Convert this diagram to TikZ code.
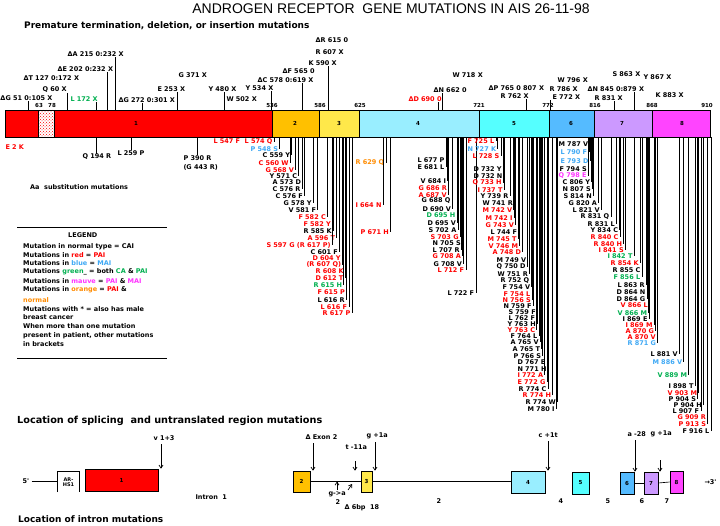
\documentclass[tikz,border=0pt]{standalone}
\usepackage{fontspec}
\setmainfont{Liberation Sans}
\newfontfamily\labfont{DejaVu Sans}
\usetikzlibrary{patterns,arrows.meta}
\definecolor{mred}{HTML}{FF0000}
\definecolor{mblue}{HTML}{3FA9F5}
\definecolor{mgreen}{HTML}{00B050}
\definecolor{morange}{HTML}{FF8C00}
\definecolor{mmag}{HTML}{FF33FF}
\definecolor{eA}{HTML}{FF0000}
\definecolor{eB}{HTML}{FFC000}
\definecolor{eC}{HTML}{FFE84A}
\definecolor{eD}{HTML}{99EEFF}
\definecolor{eE}{HTML}{55FFFF}
\definecolor{eF}{HTML}{55BBFF}
\definecolor{eG}{HTML}{CC99FF}
\definecolor{eH}{HTML}{FF44FF}
\begin{document}
\begin{tikzpicture}[x=1pt,y=-1pt,
  lab/.style={font=\labfont\fontsize{6.5}{6.5}\selectfont\bfseries, inner sep=0.3pt, anchor=west},
  num/.style={font=\labfont\fontsize{5.5}{5.5}\selectfont\bfseries, inner sep=0pt},
  head/.style={font=\labfont\fontsize{9}{10}\selectfont\bfseries, inner sep=0pt, anchor=west},
  leg/.style={font=\labfont\fontsize{6.5}{6.5}\selectfont\bfseries, inner sep=0pt, anchor=west},
  conn/.style={line width=0.65pt},
  exonbox/.style={draw=black, line width=0.7pt},
  lowex/.style={draw=black, line width=0.7pt, inner sep=0pt, font=\labfont\fontsize{5.5}{5.5}\selectfont\bfseries},
  arr/.style={line width=0.7pt, -{Straight Barb[length=3pt,width=4pt]}},
]
\useasboundingbox[fill=white] (0,0) rectangle (720,526);

% ---------- titles ----------
\node[font=\fontsize{14}{15}\selectfont, inner sep=0pt] (title) at (391,9) {ANDROGEN RECEPTOR~~GENE MUTATIONS IN AIS 26-11-98};
\node[head] (hprem) at (24,26) {Premature termination, deletion, or insertion mutations};

% ---------- main bar ----------
\draw[exonbox, fill=eA] (5,110) rectangle (272,137);
\fill[white] (38,110) rectangle (54,137);
\fill[pattern=crosshatch dots, pattern color=red] (38,110) rectangle (54,137);
\draw[line width=0.7pt] (38,110) rectangle (54,137);
\draw[exonbox, fill=eB] (272,110) rectangle (319,137);
\draw[exonbox, fill=eC] (319,110) rectangle (359,137);
\draw[exonbox, fill=eD] (359,110) rectangle (479,137);
\draw[exonbox, fill=eE] (479,110) rectangle (549,137);
\draw[exonbox, fill=eF] (549,110) rectangle (594,137);
\draw[exonbox, fill=eG] (594,110) rectangle (652,137);
\draw[exonbox, fill=eH] (652,110) rectangle (710,137);
\coordinate (bartop) at (0,110);
\coordinate (barbot) at (0,137);

\foreach \x/\txt [count=\i] in {136/1,295/2,339/3,418/4,514/5,571/6,622/7,682/8}
  \node[num] (en\i) at (\x,123.5) {\txt};
\foreach \x/\txt [count=\i] in {39/63,52/78,272/536,320/586,360/625,479/721,548/772,595/816,652/868,707/910}
  \node[num] (bn\i) at (\x,105.5) {\txt};

% ---------- top labels with lines ----------
\foreach \x/\y/\col/\txt/\lx [count=\i] in {
 0/98/black/ΔG 51 0:105 X/28,
 42/90/black/Q 60 X/67,
 70/99/mgreen/L 172 X/96,
 57/69/black/ΔE 202 0:232 X/107,
 67/54/black/ΔA 215 0:232 X/115,
 118/100/black/ΔG 272 0:301 X/142,
 157/89/black/E 253 X/177,
 208/89/black/Y 480 X/224,
 245/88/black/Y 534 X/271,
 257/80/black/ΔC 578 0:619 X/302,
 308/63/black/K 590 X/328,
 433/90/black/ΔN 662 0/442,
 408/99/mred/ΔD 690 0/438,
 500/96/black/R 762 X/526,
 552/97/black/E 772 X/550,
 587/89/black/ΔN 845 0:879 X/634,
 594/98/black/R 831 X/614}
{ \node[lab,text=\col] (t\i) at (\x,\y) {\txt};
  \coordinate (tb\i) at (\lx,110);
  \draw[conn] (tb\i) -- (tb\i |- t\i.south); }

\foreach \x/\y/\txt [count=\i] in {
 23/78/ΔT 127 0:172 X, 178/75/G 371 X, 226/99/W 502 X, 282/71/ΔF 565 0,
 315/52/R 607 X, 315/40/ΔR 615 0, 452/75/W 718 X, 488/88/ΔP 765 0 807 X,
 557/80/W 796 X, 549/89/R 786 X, 612/74/S 863 X, 643/77/Y 867 X, 655/95/K 883 X}
{ \node[lab] (u\i) at (\x,\y) {\txt}; }

% ---------- substitution labels under exon 1 ----------
\foreach \x/\y/\txt [count=\i] in {82/157/Q 194 R, 117/153/L 259 P, 183/158/P 390 R}
{ \node[lab] (q\i) at (\x,\y) {\txt};
  \draw[conn] (q\i.north) -- (q\i.north |- barbot); }
\node[lab,text=mred] (e2k) at (5,147) {E 2 K};
\node[lab] (g443) at (183,167) {(G 443 R)};
\node[font=\labfont\fontsize{6.5}{7}\selectfont\bfseries, inner sep=0pt, anchor=west] (hsub) at (30,187) {Aa~~substitution mutations};

% ---------- cascade of substitution labels ----------
\foreach \x/\y/\col/\txt [count=\i] in {
 213/142/mred/L 547 F~~L 574 Q,
 250/149/mblue/P 548 S,
 262/155/black/C 559 Y,
 258/163/mred/C 560 W,
 265/170/mred/G 568 V,
 269/176/black/Y 571 C,
 272/182/black/A 573 D,
 272/189/black/C 576 R,
 275/196/black/C 576 F,
 283/203/black/G 578 Y,
 288/210/black/V 581 F,
 298/217/mred/F 582 C,
 303/224/mred/F 582 Y,
 303/231/black/R 585 K,
 307/238/mred/A 596 T,
 266/245/mred/S 597 G (R 617 P),
 310/252/black/C 601 F,
 312/258/mred/D 604 Y,
 306/265/mred/(R 607 Q),
 315/271/mred/R 608 K,
 315/278/mred/D 612 T,
 313/285/mgreen/R 615 H,
 317/292/mred/F 615 P,
 317/300/black/L 616 R,
 320/307/mred/L 616 F,
 322/313/mred/R 617 P,
 355/163/morange/R 629 Q,
 355/205/mred/I 664 N,
 360/232/mred/P 671 H,
 417/160/black/L 677 P,
 417/167/black/E 681 L,
 420/181/black/V 684 I,
 418/188/mred/G 686 R,
 418/195/mred/A 687 V,
 421/201/black/G 688 Q,
 422/209/black/D 690 V,
 426/215/mgreen/D 695 H,
 427/223/black/D 695 V,
 428/230/black/S 702 A,
 430/237/mred/S 703 G,
 432/243/black/N 705 S,
 432/250/black/L 707 R,
 432/256/mred/G 708 A,
 433/264/black/G 708 V,
 437/270/mred/L 712 F,
 447/293/black/L 722 F,
 467/141/mred/F 725 L,
 467/149/mblue/N 727 K,
 472/156/mred/L 728 S,
 473/169/black/D 732 Y,
 473/176/black/D 732 N,
 472/183/mred/Q 733 H,
 477/190/mred/I 737 T,
 480/196/black/Y 739 R,
 482/203/black/W 741 R,
 482/210/mred/M 742 V,
 485/218/mred/M 742 I,
 485/225/mred/G 743 V,
 490/232/black/L 744 F,
 487/239/mred/M 745 T,
 488/246/mred/V 746 M,
 492/252/mred/A 748 D,
 496/260/black/M 749 V,
 496/267/black/Q 750 D,
 497/274/black/W 751 R,
 500/281/black/R 752 Q,
 502/287/black/F 754 V,
 503/294/mred/F 754 L,
 502/300/mred/N 756 S,
 503/306/black/N 759 F,
 508/312/black/S 759 F,
 508/318/black/L 762 F,
 507/324/black/Y 763 H,
 507/330/mred/Y 763 C,
 510/336/black/F 764 L,
 510/342/black/A 765 V,
 512/349/black/A 765 T,
 513/356/black/P 766 S,
 517/362/black/D 767 E,
 517/369/black/N 771 H,
 517/375/mred/I 772 A,
 517/382/mred/E 772 G,
 518/389/black/R 774 C,
 522/395/mred/R 774 H,
 525/402/black/R 774 W,
 527/409/black/M 780 I,
 558/144/black/M 787 V,
 560/152/mblue/L 790 F,
 560/161/mblue/E 793 D,
 559/169/black/F 794 S,
 558/176/mmag/Q 798 E,
 562/182/black/C 806 Y,
 562/189/black/N 807 S,
 563/196/black/S 814 N,
 568/203/black/G 820 A,
 572/210/black/L 821 V,
 580/217/black/R 831 Q,
 587/224/black/R 831 L,
 590/230/black/Y 834 C,
 590/237/mred/R 840 C,
 593/244/mred/R 840 H,
 598/250/mred/I 841 S,
 607/256/mgreen/I 842 T,
 610/263/mred/R 854 K,
 612/270/black/R 855 C,
 613/277/mgreen/F 856 L,
 617/285/black/L 863 R,
 616/292/black/D 864 N,
 616/299/black/D 864 G,
 620/305/mred/V 866 L,
 617/313/mgreen/V 866 M,
 622/319/black/I 869 E,
 625/325/mred/I 869 M,
 625/331/mred/A 870 G,
 627/337/mred/A 870 V,
 627/343/mblue/R 871 G,
 650/354/black/L 881 V,
 652/362/mblue/M 886 V,
 657/375/mgreen/V 889 M,
 668/386/black/I 898 T,
 667/393/mred/V 903 M,
 668/399/black/P 904 S,
 673/405/black/P 904 H,
 672/411/black/L 907 F,
 677/417/mred/G 909 R,
 678/424/mred/P 913 S,
 682/431/black/F 916 L}
{ \node[lab,text=\col] (s\i) at (\x,\y) {\txt};
  \coordinate (se\i) at ([xshift=1.2pt]s\i.east);
  \draw[conn] (se\i) -- (se\i |- barbot); }

% ---------- legend ----------
\coordinate (lgA) at (17,227);
\coordinate (lgB) at (167,227);
\draw[conn] (lgA) -- (lgB);
\coordinate (lgC) at (17,358);
\coordinate (lgD) at (167,358);
\draw[conn] (lgC) -- (lgD);
\node[leg] (lg0) at (68,235) {LEGEND};
\node[leg] (lg1) at (23,247) {Mutation in normal type = CAI};
\node[leg] (lg2) at (23,255) {Mutations in \textcolor{mred}{red} = \textcolor{mred}{PAI}};
\node[leg] (lg3) at (23,263) {Mutations in \textcolor{mblue}{blue} = \textcolor{mblue}{MAI}};
\node[leg] (lg4) at (23,272) {Mutations \textcolor{mgreen}{green}\_ = both \textcolor{mgreen}{CA} \& \textcolor{mgreen}{PAI}};
\node[leg] (lg5) at (23,281) {Mutations in \textcolor{mmag}{mauve} = \textcolor{mmag}{PAI} \& \textcolor{mmag}{MAI}};
\node[leg] (lg6) at (23,290) {Mutations in \textcolor{morange}{orange} = \textcolor{mred}{PAI} \&};
\node[leg,text=morange] (lg7) at (23,300) {normal};
\node[leg] (lg8) at (23,309) {Mutations with * = also has male};
\node[leg] (lg9) at (23,317) {breast cancer};
\node[leg] (lg10) at (23,326) {When more than one mutation};
\node[leg] (lg11) at (23,336) {present in patient, other mutations};
\node[leg] (lg12) at (23,344) {in brackets};

% ---------- lower diagram ----------
\node[head, font=\labfont\fontsize{9.7}{10}\selectfont\bfseries] (hsplice) at (17,421) {Location of splicing~~and untranslated region mutations};
\node[head] (hintron) at (18,519) {Location of intron mutations};

\node[lab] (five) at (22,481) {5'};
\node[inner sep=0pt, minimum width=21pt, minimum height=20pt, align=center, font=\labfont\fontsize{5}{5.5}\selectfont\bfseries] (ar) at (68.5,482) {AR-\\HS1};
\draw[conn] (ar.south west) |- (ar.north east) -- (ar.south east);
\draw[conn] ([xshift=2pt]five.east) -- (five.east -| ar.west);

\node[lowex, fill=eA, minimum width=73pt, minimum height=22pt] (L1) at (121.5,480) {1};
\node[lowex, fill=eB, minimum width=17pt, minimum height=21pt] (L2) at (301.5,481.5) {2};
\node[lowex, fill=eC, minimum width=11pt, minimum height=21pt] (L3) at (366.5,481.5) {3};
\node[lowex, fill=eD, minimum width=34pt, minimum height=22pt] (L4) at (528,482) {4};
\node[lowex, fill=eE, minimum width=17pt, minimum height=22pt] (L5) at (580.5,483) {5};
\node[lowex, fill=eF, minimum width=14pt, minimum height=22pt] (L6) at (627,483) {6};
\node[lowex, fill=eG, minimum width=14pt, minimum height=22pt] (L7) at (651,483) {7};
\node[lowex, fill=eH, minimum width=13pt, minimum height=22pt] (L8) at (676.5,482) {8};
\draw[conn] (L2.east) -- (L3.west);
\draw[conn] (L3.east) -- (L3.east -| L4.west);
\draw[conn] (L6.east) -- (L7.west);
\draw[conn] (L7.east) -- (L8.west);
\node[lab] (three) at (704,482) {→3'};

% arrows and labels of splice mutations
\node[lab] (sp1) at (153,438) {v 1+3};
\coordinate (sp1a) at (161,444);
\draw[arr] (sp1a) -- (sp1a |- L1.north);
\node[lab] (sp2) at (305,437) {Δ Exon 2};
\coordinate (sp2a) at (313,443);
\draw[arr] (sp2a) -- (sp2a |- L2.north);
\node[lab] (sp3) at (345,447) {t -11a};
\coordinate (sp3a) at (355,461);
\draw[arr] (sp3a) -- (sp3a |- L3.north);
\node[lab] (sp4) at (366,436) {g +1a};
\coordinate (sp4a) at (375,442);
\draw[arr] (sp4a) -- (sp4a |- L3.north);
\node[lab] (sp5) at (538,435) {c +1t};
\coordinate (sp5a) at (548,441);
\draw[arr] (sp5a) -- (sp5a |- L4.north);
\node[lab] (sp6) at (627,434) {a -28};
\coordinate (sp6a) at (635,440);
\draw[arr] (sp6a) -- (sp6a |- L6.north);
\node[lab] (sp7) at (650,434) {g +1a};
\coordinate (sp7a) at (660,460);
\draw[arr] (sp7a) -- (sp7a |- L7.north);

% intron 2 marks below the line
\node[lab] (ga) at (328,494) {g->a};
\coordinate (gaa) at (337,490);
\draw[arr] (gaa) -- (gaa |- L2.east);
\node[lab] (i2b) at (335,502) {2};
\node[lab] (d6) at (344,508) {Δ 6bp~~18};
\coordinate (d6a) at (348,490);
\coordinate (d6b) at (352,484);
\draw[arr] (d6a) -- (d6b);

% intron numbers
\node[lab] (in1) at (195,497) {Intron~~1};
\foreach \x/\txt [count=\i] in {436/2,558/4,605/5,639/6,664/7}
  \node[lab] (inn\i) at (\x,501) {\txt};
\end{tikzpicture}
\end{document}
